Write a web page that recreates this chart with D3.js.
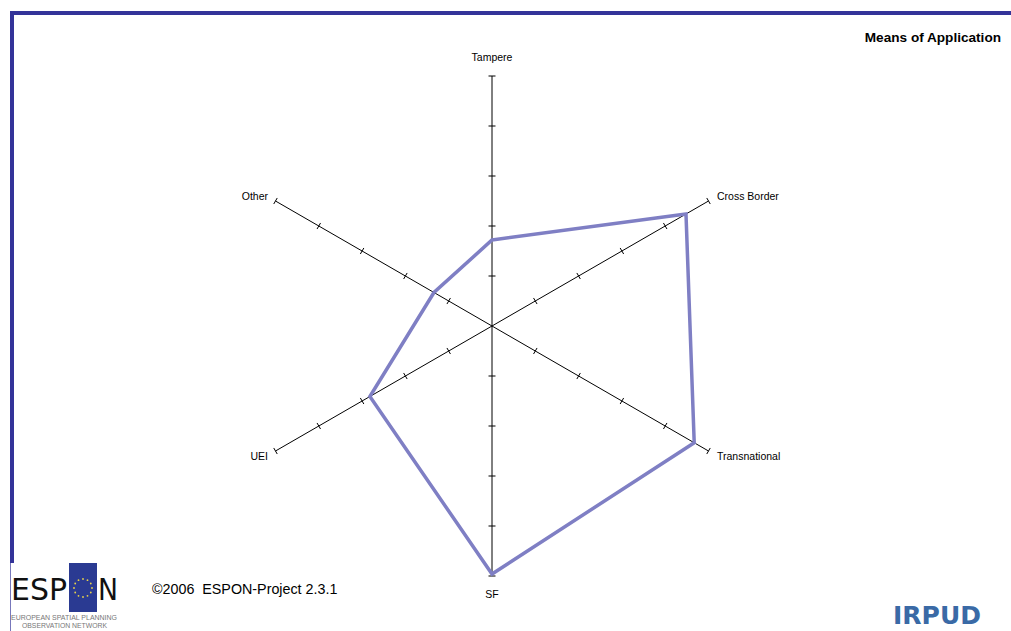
<!DOCTYPE html>
<html><head><meta charset="utf-8">
<script src="https://cdn.jsdelivr.net/npm/d3@7"></script>
<style>
html,body{margin:0;padding:0;background:#fff;}
svg{display:block;font-family:"Liberation Sans",Arial,sans-serif;}
</style></head>
<body><svg id="c" width="1011" height="631"></svg>
<script>
const axes = ["Tampere","Cross Border","Transnational","SF","UEI","Other"];
const values = [1.72, 4.48, 4.67, 4.96, 2.82, 1.34];
const tickValues = [1,2,3,4,5];
const maxValue = 5;
const title = "Means of Application";
const footer = "©2006  ESPON-Project 2.3.1";

const svg = d3.select("#c");
const cx = 492, cy = 326, R = 250;
const r = d3.scaleLinear().domain([0, maxValue]).range([0, R]);
const ang = d3.scalePoint().domain(axes).range([0, 2*Math.PI*(axes.length-1)/axes.length]);
const pt = (a, v) => [cx + r(v)*Math.sin(ang(a)), cy - r(v)*Math.cos(ang(a))];

// frame
svg.append("path").attr("d","M12,563 L12,13 L1011,13").attr("fill","none").attr("stroke","#333399").attr("stroke-width",4);

// axes
const g = svg.append("g");
axes.forEach(a => {
  const [x2,y2] = pt(a, maxValue);
  g.append("line").attr("x1",cx).attr("y1",cy).attr("x2",x2).attr("y2",y2)
    .attr("stroke","#000").attr("stroke-width",1);
  const t = ang(a);
  const px = Math.cos(t), py = Math.sin(t);
  tickValues.forEach(v => {
    const [x,y] = pt(a, v);
    g.append("line").attr("x1",x-px*3.5).attr("y1",y-py*3.5).attr("x2",x+px*3.5).attr("y2",y+py*3.5)
      .attr("stroke","#000").attr("stroke-width",1);
  });
});

// series polygon
const line = d3.line().curve(d3.curveLinearClosed);
svg.append("path").attr("d", line(axes.map((a,i)=>pt(a, values[i]))))
  .attr("fill","none").attr("stroke","#7f7fc4").attr("stroke-width",3.5).attr("stroke-linejoin","miter");

// labels
const labelPos = {
  "Tampere":[492,61,"middle"],
  "Cross Border":[717,200,"start"],
  "Transnational":[717,460,"start"],
  "SF":[492,598,"middle"],
  "UEI":[268,460,"end"],
  "Other":[268,200,"end"]
};
axes.forEach(a => {
  const [x,y,anc] = labelPos[a];
  svg.append("text").attr("x",x).attr("y",y).attr("text-anchor",anc)
    .attr("font-size",10.5).attr("fill","#000").text(a);
});

// title
svg.append("text").attr("x",1001).attr("y",42).attr("text-anchor","end")
  .attr("font-size",13.6).attr("font-weight","bold").text(title);

// footer
svg.append("text").attr("x",152).attr("y",594).attr("font-size",14.3)
  .style("white-space","pre").attr("xml:space","preserve").text(footer);

// ESPON logo
const logo = svg.append("g");
logo.append("rect").attr("x",10).attr("y",563).attr("width",108).attr("height",68).attr("fill","#fff");
logo.append("line").attr("x1",10.5).attr("y1",563).attr("x2",10.5).attr("y2",631).attr("stroke","#7777bb").attr("stroke-width",1);
logo.append("text").attr("x",11).attr("y",600).attr("font-size",31).attr("fill","#111")
  .attr("font-family","'DejaVu Sans',sans-serif").attr("textLength",56).attr("lengthAdjust","spacingAndGlyphs").text("ESP");
logo.append("rect").attr("x",69).attr("y",563).attr("width",28).attr("height",49).attr("fill","#2a3a92");
const starG = logo.append("g");
d3.range(12).forEach(i => {
  const t = i/12*2*Math.PI;
  starG.append("circle").attr("cx",83+9*Math.cos(t)).attr("cy",588+9*Math.sin(t)).attr("r",0.9).attr("fill","#e8d24a");
});
logo.append("text").attr("x",98).attr("y",600).attr("font-size",31).attr("fill","#111")
  .attr("font-family","'DejaVu Sans',sans-serif").attr("textLength",20).attr("lengthAdjust","spacingAndGlyphs").text("N");
logo.append("text").attr("x",11).attr("y",620).attr("font-size",6.5).attr("fill","#777")
  .attr("textLength",106).attr("lengthAdjust","spacingAndGlyphs").text("EUROPEAN SPATIAL PLANNING");
logo.append("text").attr("x",22).attr("y",628).attr("font-size",6.5).attr("fill","#777")
  .attr("textLength",85).attr("lengthAdjust","spacingAndGlyphs").text("OBSERVATION NETWORK");

// IRPUD
svg.append("text").attr("x",893).attr("y",624).attr("font-size",25).attr("font-weight","bold")
  .attr("fill","#3a6aa6").attr("textLength",88).attr("lengthAdjust","spacingAndGlyphs")
  .attr("font-family","'DejaVu Sans',sans-serif").text("IRPUD");
</script></body></html>
